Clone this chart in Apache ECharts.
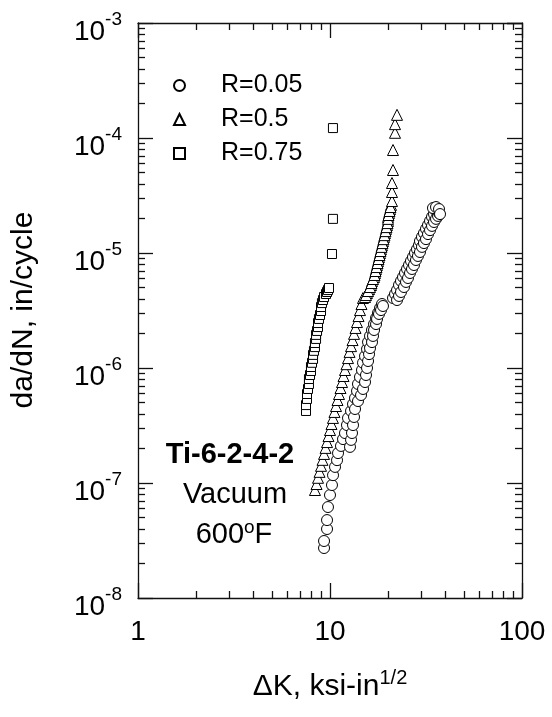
<!DOCTYPE html>
<html>
<head>
<meta charset="utf-8">
<script src="https://cdn.jsdelivr.net/npm/echarts@6/dist/echarts.min.js"></script>
<style>
html, body { margin: 0; padding: 0; background: #fff; }
#chart { width: 552px; height: 717px; }
</style>
</head>
<body>
<div id="chart"></div>
<script>
// R = 0.05 (circles): lower band, two specimens
const r005LowK = [9.31, 9.31, 9.65, 9.65, 9.76, 10.0, 10.24, 10.37, 10.62, 10.88, 11.01, 11.41, 11.69, 11.97, 12.26, 12.41, 12.87, 13.18, 13.50, 13.83, 13.99, 14.33, 14.68, 14.86, 15.22, 15.59, 15.78, 16.16, 16.55, 16.96, 17.37, 17.78, 18.22, 18.66,
  12.71, 12.87, 13.02, 13.18, 13.34, 13.50, 13.99, 14.51, 14.86, 15.22, 15.40, 15.59, 15.78, 15.97, 16.16, 16.55, 16.75, 16.96, 17.37, 17.58, 18.00, 18.44, 18.88]
const r005LowRate = [2.72e-8, 3.13e-8, 3.98e-8, 4.76e-8, 6.18e-8, 7.86e-8, 9.60e-8, 1.17e-7, 1.38e-7, 1.58e-7, 1.82e-7, 2.10e-7, 2.41e-7, 2.72e-7, 3.19e-7, 3.67e-7, 4.23e-7, 4.86e-7, 5.48e-7, 6.31e-7, 7.26e-7, 8.35e-7, 9.60e-7, 1.11e-6, 1.27e-6, 1.46e-6, 1.68e-6, 1.90e-6, 2.14e-6, 2.41e-6, 2.72e-6, 3.01e-6, 3.32e-6, 3.60e-6,
  2.06e-7, 2.37e-7, 2.72e-7, 3.19e-7, 3.75e-7, 4.40e-7, 5.16e-7, 5.82e-7, 6.57e-7, 7.55e-7, 8.69e-7, 1.00e-6, 1.15e-6, 1.32e-6, 1.49e-6, 1.68e-6, 1.90e-6, 2.14e-6, 2.41e-6, 2.67e-6, 2.95e-6, 3.19e-6, 3.46e-6]
// R = 0.05 upper band
const r005HighK = [21.29, 21.81, 22.34, 22.88, 23.43, 24.00, 24.58, 25.18, 25.79, 26.41, 27.05, 27.71, 28.38, 29.07, 29.42, 30.13, 30.86, 31.62, 32.39, 33.18, 33.98, 34.81, 35.66,
  22.34, 22.88, 23.43, 24.29, 24.88, 25.48, 26.10, 26.73, 27.38, 28.04, 28.72, 29.42, 30.13, 30.86, 31.62, 32.39, 33.18, 33.98, 34.81, 35.66, 36.52, 36.96,
  34.39, 35.66, 36.96, 37.41]
const r005HighRate = [4.06e-6, 4.40e-6, 4.76e-6, 5.27e-6, 5.71e-6, 6.18e-6, 6.70e-6, 7.26e-6, 7.86e-6, 8.52e-6, 9.23e-6, 1.00e-5, 1.08e-5, 1.17e-5, 1.27e-5, 1.38e-5, 1.49e-5, 1.62e-5, 1.75e-5, 1.90e-5, 2.06e-5, 2.18e-5, 2.32e-5,
  3.90e-6, 4.23e-6, 4.58e-6, 5.06e-6, 5.60e-6, 6.06e-6, 6.70e-6, 7.26e-6, 7.86e-6, 8.69e-6, 9.42e-6, 1.02e-5, 1.13e-5, 1.22e-5, 1.32e-5, 1.46e-5, 1.58e-5, 1.72e-5, 1.86e-5, 1.98e-5, 2.10e-5, 2.23e-5,
  2.46e-5, 2.51e-5, 2.41e-5, 2.18e-5]

// R = 0.5 (triangles): lower column, dense stack, top points
const r05K = [8.35, 8.51, 8.66, 8.82, 8.98, 9.14, 9.31, 9.48, 9.65, 9.82, 10.0, 10.18, 10.36, 10.55, 10.75, 10.94, 11.14, 11.34, 11.55, 11.76, 11.97, 12.19, 12.41, 12.64, 12.87, 13.10, 13.34, 13.58, 13.82, 14.08, 14.33, 14.59, 14.85,
  15.22, 15.58, 15.97, 16.35, 16.55, 16.95, 17.16, 17.36, 17.57, 17.78, 17.99, 18.21, 18.43, 18.65, 18.88, 19.11, 19.34, 19.57, 19.81, 20.05, 20.05, 20.29, 20.54, 20.78,
  15.40, 15.78, 16.16, 16.45, 16.75, 17.06, 17.26, 17.47, 17.68, 17.89, 18.11, 18.32, 18.54, 18.77, 18.99, 19.22, 19.46, 19.69, 19.93, 20.05, 20.17, 20.41, 20.66,
  21.03, 21.03, 21.03, 21.29, 21.29, 21.81, 21.81, 22.34]
const r05Rate = [8.69e-8, 9.80e-8, 1.11e-7, 1.25e-7, 1.41e-7, 1.59e-7, 1.79e-7, 2.02e-7, 2.27e-7, 2.56e-7, 2.89e-7, 3.26e-7, 3.68e-7, 4.15e-7, 4.67e-7, 5.27e-7, 5.94e-7, 6.70e-7, 7.55e-7, 8.52e-7, 9.61e-7, 1.08e-6, 1.22e-6, 1.38e-6, 1.55e-6, 1.75e-6, 1.98e-6, 2.23e-6, 2.51e-6, 2.83e-6, 3.19e-6, 3.60e-6, 4.06e-6,
  4.14e-6, 4.49e-6, 4.86e-6, 5.27e-6, 5.71e-6, 6.19e-6, 6.70e-6, 7.26e-6, 7.87e-6, 8.52e-6, 9.23e-6, 1.00e-5, 1.08e-5, 1.17e-5, 1.27e-5, 1.38e-5, 1.49e-5, 1.62e-5, 1.75e-5, 1.90e-5, 2.06e-5, 2.23e-5, 2.41e-5, 2.62e-5,
  4.31e-6, 4.67e-6, 5.06e-6, 5.48e-6, 5.94e-6, 6.44e-6, 6.97e-6, 7.55e-6, 8.18e-6, 8.87e-6, 9.60e-6, 1.04e-5, 1.13e-5, 1.22e-5, 1.32e-5, 1.43e-5, 1.55e-5, 1.68e-5, 1.82e-5, 1.98e-5, 2.14e-5, 2.32e-5, 2.51e-5,
  2.83e-5, 3.39e-5, 4.06e-5, 5.27e-5, 7.86e-5, 1.11e-4, 1.32e-4, 1.59e-4]

// R = 0.75 (squares)
const r075K = [7.50, 7.50, 7.59, 7.59, 7.68, 7.77, 7.77, 7.87, 7.96, 7.96, 8.06, 8.16, 8.16, 8.25, 8.35, 8.35, 8.46, 8.46, 8.56, 8.66, 8.66, 8.76, 8.87, 8.98, 8.98, 9.08, 9.19, 9.31, 9.53, 9.65, 9.76, 9.88,
  10.24, 10.36, 10.36]
const r075Rate = [4.23e-7, 4.76e-7, 5.38e-7, 5.94e-7, 6.57e-7, 7.26e-7, 8.02e-7, 8.69e-7, 9.42e-7, 1.02e-6, 1.11e-6, 1.20e-6, 1.30e-6, 1.41e-6, 1.52e-6, 1.65e-6, 1.79e-6, 1.94e-6, 2.10e-6, 2.27e-6, 2.46e-6, 2.67e-6, 2.89e-6, 3.13e-6, 3.39e-6, 3.67e-6, 3.90e-6, 4.14e-6, 4.40e-6, 4.58e-6, 4.76e-6, 4.96e-6,
  9.8e-6, 1.98e-5, 1.22e-4]

const legendNames = ['R=0.05', 'R=0.5', 'R=0.75']
const minorX = [2, 3, 4, 5, 6, 7, 8, 9, 20, 30, 40, 50, 60, 70, 80, 90]
const minorY = []
for (const e of [-8, -7, -6, -5, -4]) {
  for (let k = 2; k <= 9; k++) minorY.push(k * Math.pow(10, e))
}

const FONT = '"Liberation Sans", Arial, Helvetica, sans-serif'
const INK = '#111'

function zip (xs, ys) {
  return xs.map((x, i) => [x, ys[i]])
}

function hollow (name, symbol, size, data) {
  return {
    name: name,
    type: 'scatter',
    symbol: symbol,
    symbolSize: size,
    xAxisIndex: 0,
    yAxisIndex: 0,
    itemStyle: { color: '#fff', borderColor: '#000', borderWidth: 1, opacity: 1 },
    emphasis: { disabled: true },
    data: data
  }
}

function logAxis (pos, min, max, showLabel) {
  const isX = pos === 'bottom' || pos === 'top'
  return {
    type: 'log',
    logBase: 10,
    position: pos,
    min: min,
    max: max,
    axisLine: { show: true, onZero: false, lineStyle: { color: INK, width: 1.3 } },
    axisTick: { show: true, inside: true, length: 15, lineStyle: { color: INK, width: 1.3 } },
    splitLine: { show: false },
    axisLabel: isX ? {
      show: showLabel,
      margin: 20,
      color: '#000',
      fontSize: 28,
      fontFamily: FONT,
      formatter: v => String(Math.round(v))
    } : {
      show: showLabel,
      margin: 16,
      color: '#000',
      fontFamily: FONT,
      formatter: v => '{b|10}{s|' + Math.round(Math.log10(v)) + '}',
      rich: {
        b: { fontSize: 28, fontFamily: FONT, color: '#000', padding: [18, 0, 0, 0] },
        s: { fontSize: 19, fontFamily: FONT, color: '#000', padding: [0, 0, 6, 0] }
      }
    }
  }
}

function minorAxis (pos, min, max, vals) {
  return {
    type: 'value',
    position: pos,
    min: min,
    max: max,
    axisLine: { show: false, onZero: false },
    axisTick: { show: true, inside: true, length: 7, lineStyle: { color: INK, width: 1.3 }, customValues: vals.map(Math.log10) },
    axisLabel: { show: false },
    splitLine: { show: false }
  }
}

const chart = echarts.init(document.getElementById('chart'), null, { renderer: 'canvas' })

const option = {
  animation: false,
  backgroundColor: '#fff',
  grid: { left: 138, right: 30, top: 23, bottom: 119 },
  xAxis: [
    logAxis('bottom', 1, 100, true),
    logAxis('top', 1, 100, false),
    minorAxis('bottom', 0, 2, minorX),
    minorAxis('top', 0, 2, minorX)
  ],
  yAxis: [
    logAxis('left', 1e-8, 1e-3, true),
    logAxis('right', 1e-8, 1e-3, false),
    minorAxis('left', -8, -3, minorY),
    minorAxis('right', -8, -3, minorY)
  ],
  legend: {
    orient: 'vertical',
    left: 168,
    top: 64,
    itemWidth: 11,
    itemHeight: 11,
    itemGap: 1,
    selectedMode: false,
    data: legendNames,
    textStyle: { fontSize: 25, fontFamily: FONT, color: '#000', lineHeight: 33, padding: [0, 0, 0, 31] }
  },
  series: [
    hollow('R=0.75', 'rect', 9, zip(r075K, r075Rate)),
    hollow('R=0.5', 'triangle', 11, zip(r05K, r05Rate)),
    hollow('R=0.05', 'circle', 11, zip(r005LowK, r005LowRate).concat(zip(r005HighK, r005HighRate)))
  ],
  graphic: [
    {
      type: 'text',
      x: 24,
      y: 310,
      rotation: Math.PI / 2,
      style: { text: 'da/dN, in/cycle', fill: '#000', font: '30px ' + FONT, align: 'center', verticalAlign: 'middle' }
    },
    {
      type: 'text',
      x: 330,
      y: 687,
      style: {
        text: '{a|ΔK, ksi-in}{s|1/2}',
        align: 'center',
        verticalAlign: 'middle',
        rich: {
          a: { fontSize: 30, fontFamily: FONT, color: '#000' },
          s: { fontSize: 20, fontFamily: FONT, color: '#000', padding: [0, 0, 18, 0] }
        }
      }
    },
    {
      type: 'text',
      x: 230,
      y: 455,
      style: { text: 'Ti-6-2-4-2', fill: '#000', font: 'bold 29px ' + FONT, align: 'center', verticalAlign: 'middle' }
    },
    {
      type: 'text',
      x: 235,
      y: 495,
      style: { text: 'Vacuum', fill: '#000', font: '29px ' + FONT, align: 'center', verticalAlign: 'middle' }
    },
    {
      type: 'text',
      x: 234,
      y: 535,
      style: {
        text: '{a|600}{s|o}{a|F}',
        align: 'center',
        verticalAlign: 'middle',
        rich: {
          a: { fontSize: 29, fontFamily: FONT, color: '#000' },
          s: { fontSize: 19, fontFamily: FONT, color: '#000', padding: [0, 0, 14, 0] }
        }
      }
    }
  ]
}

chart.setOption(option)
</script>
</body>
</html>
